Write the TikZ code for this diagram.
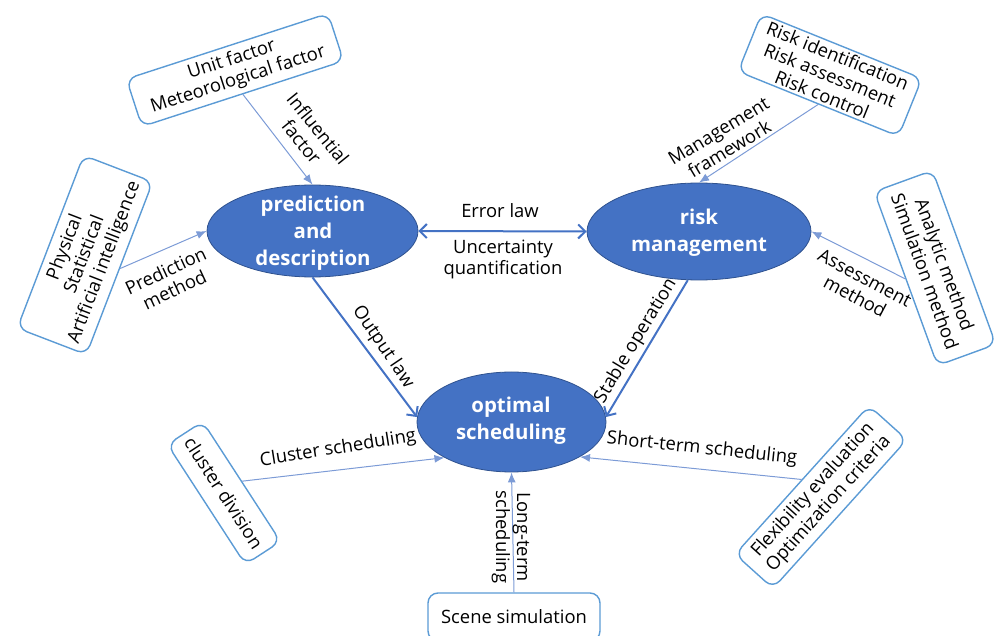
\documentclass[tikz,border=0pt]{standalone}
\usepackage{fontspec}
\setmainfont{Open Sans}
\usepackage{xcolor}
\usepackage{tikz}
\usetikzlibrary{arrows.meta,shapes.geometric}
\definecolor{ellblue}{HTML}{4472C4}
\definecolor{ellborder}{HTML}{2F528F}
\definecolor{boxblue}{HTML}{5B9BD5}
\definecolor{linkblue}{HTML}{7C9BD6}

\begin{document}
\begin{tikzpicture}[x=0.5pt,y=-0.5pt,font=\fontsize{9.2}{10.5}\selectfont]
    \tikzstyle{topic}=[ellipse,fill=ellblue,draw=ellborder,line width=0.4pt,inner sep=0pt]
    \tikzstyle{topic text}=[text=white,font=\fontsize{10.2}{13.5}\selectfont\bfseries,align=center,inner sep=0pt]
    \tikzstyle{item}=[rectangle,rounded corners=5pt,draw=boxblue,line width=0.7pt,fill=white,align=center,inner sep=1.5pt]
    \tikzstyle{annot}=[align=center,inner sep=0pt]
    \tikzstyle{main link}=[draw=ellblue,line width=1pt]
    \tikzstyle{side link}=[draw=linkblue,line width=0.5pt,-{Latex[length=5pt,width=4pt]}]
    \tikzstyle{barb}=[-{Straight Barb[length=3.5pt,width=7pt]}]
    \tikzstyle{both barbs}=[{Straight Barb[length=3.5pt,width=7pt]}-{Straight Barb[length=3.5pt,width=7pt]}]

    \useasboundingbox (0,0) rectangle (997,636);

    % Draw the three topics
    \node[topic,minimum width=105.5pt,minimum height=46pt] (pred) at (312.5,231) {};
    \node[topic,minimum width=112pt,minimum height=48.5pt] (risk) at (699,231.5) {};
    \node[topic,minimum width=94.5pt,minimum height=50pt] (opt) at (511.5,422) {};
    \node[topic text] (pred-t) at (313,233) {prediction\\and\\description};
    \node[topic text] (risk-t) at (699,233) {risk\\management};
    \node[topic text] (opt-t) at (511,421) {optimal\\scheduling};

    % Draw the boxes round them
    \node[item,rotate=18,minimum width=106pt,minimum height=25pt] (ubox) at (235,70) {Unit factor\\Meteorological factor};
    \node[item,rotate=-22,minimum width=86.5pt,minimum height=29.5pt] (rbox) at (830,75) {Risk identification\\Risk assessment\\Risk control};
    \node[item,rotate=69,minimum width=92.5pt,minimum height=37pt] (lbox) at (85,255) {Physical\\Statistical\\Artificial intelligence};
    \node[item,rotate=-70,minimum width=92.5pt,minimum height=31pt] (abox) at (935,268) {Analytic method\\Simulation method};
    \node[item,rotate=-57,minimum width=71.5pt,minimum height=21pt] (cbox) at (224,493) {cluster division};
    \node[item,rotate=48,minimum width=100pt,minimum height=25.5pt] (fbox) at (821,497) {Flexibility evaluation\\Optimization criteria};
    \node[item,minimum width=86pt,minimum height=24pt] (scene) at (514,617) {Scene simulation};

    % Connect every box with its topic
    \foreach \source / \dest in {ubox.south/pred.north, lbox.south/pred.west,
        rbox.south/risk.north, abox.south/risk.east,
        cbox.north/opt.208, fbox.north/opt.333, scene.north/opt.south}
        \path[side link] (\source) -- (\dest);

    % Links between the topics
    \path[main link,barb] (pred.south) -- (opt.177);
    \path[main link,barb] (risk.257) -- (opt.3);
    \path[main link,both barbs] (pred.east) -- (risk.west);

    % Labels on the links
    \node[annot,rotate=-51] (l-infl) at (310,135) {Influential\\factor};
    \node[annot,rotate=25] (l-pm) at (170,280) {Prediction\\method};
    \node[annot,rotate=31] (l-mf) at (724,140) {Management\\framework};
    \node[annot,rotate=-28] (l-am) at (860,287) {Assessment\\method};
    \node[annot] (l-el) at (500,211) {Error law};
    \node[annot] (l-uq) at (503,259) {Uncertainty\\quantification};
    \node[annot,rotate=-56] (l-ol) at (383,347) {Output law};
    \node[annot,rotate=59] (l-so) at (636,341) {Stable operation};
    \node[annot,rotate=9] (l-cs) at (338,449) {Cluster scheduling};
    \node[annot,rotate=-6] (l-st) at (702,449) {Short-term scheduling};
    \node[annot,rotate=-90] (l-lt) at (511,537) {Long-term\\scheduling};

\end{tikzpicture}
\end{document}
